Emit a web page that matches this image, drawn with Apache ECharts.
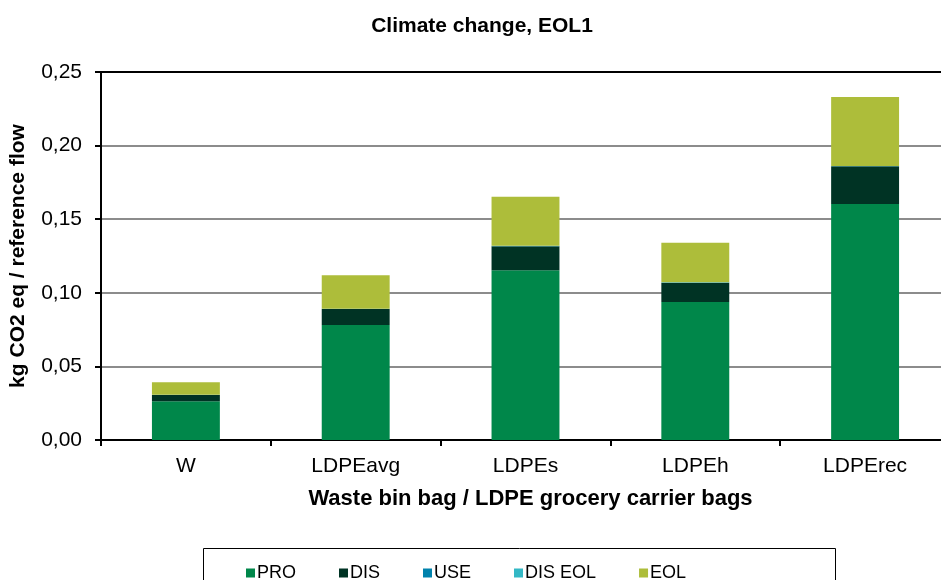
<!DOCTYPE html>
<html>
<head>
<meta charset="utf-8">
<script src="https://cdn.jsdelivr.net/npm/echarts@6/dist/echarts.min.js"></script>
<style>
html,body{margin:0;padding:0;background:#fff;overflow:hidden;}
#chart{width:950px;height:580px;}
</style>
</head>
<body>
<div id="chart"></div>
<script>
const categories = ['W', 'LDPEavg', 'LDPEs', 'LDPEh', 'LDPErec'];
const PRO = [0.0263, 0.0781, 0.1153, 0.0938, 0.1603];
const DIS = [0.0043, 0.0109, 0.0163, 0.0131, 0.0256];
const USE = [0, 0, 0, 0, 0];
const DIS_EOL = [0.0002, 0.0002, 0.0003, 0.0002, 0.0003];
const EOL = [0.0084, 0.0227, 0.0334, 0.0269, 0.0468];
const yTicks = [0, 0.05, 0.10, 0.15, 0.20, 0.25];

const FONT = '"Liberation Sans", Arial, sans-serif';
const chart = echarts.init(document.getElementById('chart'));

function bar(name, data, color) {
  return { name, type: 'bar', stack: 'total', data, barWidth: '40%',
           itemStyle: { color }, emphasis: { disabled: true } };
}

chart.setOption({
  animation: false,
  textStyle: { fontFamily: FONT },
  title: {
    text: 'Climate change, EOL1', left: 477, textAlign: 'center', top: 11,
    textStyle: { fontFamily: FONT, fontSize: 21, fontWeight: 'bold', color: '#000' }
  },
  grid: { left: 100, right: 0, top: 72, bottom: 140, containLabel: false },
  legend: {
    top: 559, left: 241, itemWidth: 9, itemHeight: 9, itemGap: 43,
    icon: 'rect',
    textStyle: { fontFamily: FONT, fontSize: 18, color: '#000', padding: [0, 0, 0, -3] },
    data: ['PRO', 'DIS', 'USE', 'DIS EOL', 'EOL']
  },
  graphic: [{
    type: 'rect', shape: { x: 203.5, y: 548.5, width: 632, height: 40 },
    style: { fill: 'none', stroke: '#000', lineWidth: 1 }
  }],
  xAxis: [{
    type: 'category', data: categories,
    name: 'Waste bin bag / LDPE grocery carrier bags', nameLocation: 'middle', nameGap: 48,
    nameTextStyle: { fontFamily: FONT, fontSize: 22, fontWeight: 'bold', color: '#000', padding: [0, 0, 0, 10] },
    axisLine: { lineStyle: { color: '#000', width: 2 } },
    axisTick: { show: true, length: 6, lineStyle: { color: '#000', width: 2 } },
    axisLabel: { fontFamily: FONT, fontSize: 21, color: '#000', margin: 16 }
  }, {
    type: 'category', data: categories, position: 'top',
    axisLine: { show: true, lineStyle: { color: '#000', width: 2 } },
    axisTick: { show: false }, axisLabel: { show: false }
  }],
  yAxis: {
    type: 'value', min: 0, max: 0.25, interval: 0.05,
    name: 'kg CO2 eq / reference flow', nameLocation: 'middle', nameGap: 72,
    nameTextStyle: { fontFamily: FONT, fontSize: 21, fontWeight: 'bold', color: '#000' },
    axisLine: { show: true, lineStyle: { color: '#000', width: 2 } },
    axisTick: { show: true, inside: false, length: 6, lineStyle: { color: '#000', width: 2 } },
    axisLabel: { fontFamily: FONT, fontSize: 21, color: '#000', margin: 19,
      formatter: v => v.toFixed(2).replace('.', ',') },
    splitLine: { show: true, lineStyle: { color: '#8c8c8c', width: 2 } }
  },
  series: [
    bar('PRO', PRO, '#00874a'),
    bar('DIS', DIS, '#003324'),
    bar('USE', USE, '#0082ac'),
    bar('DIS EOL', DIS_EOL, '#33b8c5'),
    bar('EOL', EOL, '#adbd3a')
  ]
});
</script>
</body>
</html>
